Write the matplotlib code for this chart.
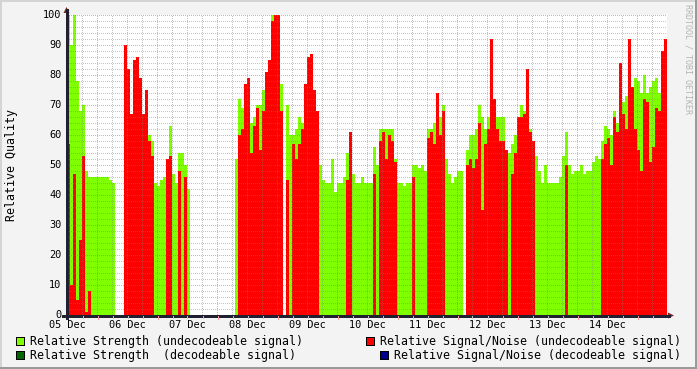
import numpy as np
import matplotlib
matplotlib.use("Agg")
import matplotlib.pyplot as plt
from matplotlib.patches import Rectangle, Polygon
from matplotlib.lines import Line2D
import matplotlib.transforms as mtransforms

n = np.nan
# ---- data: 20 samples per day (72 min each), 05 Dec .. 14 Dec ----
day_labels = ["05 Dec", "06 Dec", "07 Dec", "08 Dec", "09 Dec",
              "10 Dec", "11 Dec", "12 Dec", "13 Dec", "14 Dec"]
samples_per_day = 20

strength = [
    100, 90, 100, 78, 68, 70, 48, 46, 46, 46, 46, 46, 46, 46, 45, 44, n, n, n, 75,
    70, 65, 70, 70, 70, 63, 60, 60, 58, 44, 43, 45, 46, 46, 63, 47, 44, 54, 54, 50,
    42, n, n, n, n, n, n, n, n, n, n, n, n, n, n, n, 52, 72, 69, 70,
    70, 64, 66, 70, 70, 75, 78, 80, 100, 100, 100, 77, n, 70, 60, 60, 62, 66, 64, 70,
    75, 75, 70, 66, 50, 45, 44, 44, 52, 41, 44, 44, 46, 54, 52, 47, 44, 44, 46, 44,
    44, 44, 56, 50, 62, 62, 62, 62, 62, 52, 44, 44, 43, 44, 44, 50, 50, 49, 50, 48,
    62, 62, 64, 68, 66, 70, 52, 47, 44, 46, 48, 48, n, 55, 60, 60, 62, 70, 66, 62,
    66, 70, 68, 66, 66, 66, 54, 54, 57, 60, 66, 70, 68, 70, 62, 58, 53, 48, 44, 50,
    44, 44, 44, 44, 46, 53, 61, 50, 47, 48, 48, 50, 47, 48, 48, 51, 53, 52, 58, 63,
    62, 60, 68, 64, 70, 71, 73, 74, 76, 79, 78, 74, 80, 74, 76, 78, 79, 74, 78, 80,
]

snr = [
    57, 10, 47, 5, 25, 53, 1, 8, n, n, n, n, n, n, n, n, n, n, n, 90,
    82, 67, 85, 86, 79, 67, 75, 58, 53, n, n, n, n, 52, 53, n, n, 48, n, 46,
    n, n, n, n, n, n, n, n, n, n, n, n, n, n, n, n, n, 60, 62, 77,
    79, 54, 63, 69, 55, 68, 81, 85, 98, 100, 100, 68, n, 45, n, 57, 52, 57, 62, 77,
    86, 87, 75, 68, n, n, n, n, n, n, n, n, n, 45, 61, n, n, n, n, n,
    n, n, 47, n, 58, 61, 52, 60, 58, 51, n, n, n, n, n, 46, n, n, n, n,
    59, 61, 57, 74, 60, 68, n, n, n, n, n, n, n, 50, 52, 49, 52, 64, 35, 57,
    62, 92, 72, 62, 58, 58, 55, n, 47, 54, 66, 66, 67, 82, 61, 58, n, n, n, n,
    n, n, n, n, n, n, 50, n, n, n, n, n, n, n, n, n, n, n, 52, 57,
    59, 50, 66, 61, 84, 67, 62, 92, 76, 62, 55, 48, 72, 71, 51, 56, 69, 68, 88, 92,
]

y_ticks = [0, 10, 20, 30, 40, 50, 60, 70, 80, 90, 100]

legend_labels = [
    "Relative Strength (undecodeable signal)",
    "Relative Strength  (decodeable signal)",
    "Relative Signal/Noise (undecodeable signal)",
    "Relative Signal/Noise (decodeable signal)",
]
C_STR_U = "#80FF00"
C_STR_D = "#006400"
C_SNR_U = "#FF0000"
C_SNR_D = "#000090"

# ---- figure ----
W, H = 697, 369
fig = plt.figure(figsize=(W / 100, H / 100), dpi=100, facecolor="#F3F3F3")
def fx(x): return x / W
def fy(y): return 1 - y / H

ax = fig.add_axes([fx(67), fy(315), 600 / W, 300 / H])
ax.set_facecolor("white")
ndays = len(day_labels)
ax.set_xlim(0, ndays)
ax.set_ylim(0, 100)
for s in ax.spines.values():
    s.set_visible(False)
ax.set_xticks([]); ax.set_yticks([])

step = 1.0 / samples_per_day
g = np.array(strength, float)
r = np.array(snr, float)
x = np.arange(len(g)) * step
mg = ~np.isnan(g)
mr = ~np.isnan(r)
ax.bar(x[mg], g[mg], width=step, align="edge", color=C_STR_U, linewidth=0,
       antialiased=False, zorder=1)
ax.bar(x[mr], r[mr], width=step, align="edge", color=C_SNR_U, linewidth=0,
       antialiased=False, zorder=1.5)

# grid (dotted 1px on / 1px off, drawn over the data as rrdtool does)
px_x = ndays / 600.0      # one pixel in data units (x)
px_y = 100 / 300.0        # one pixel in data units (y)
minor_c = (0.5, 0.5, 0.5, 0.45)
major_c = (1.0, 0.25, 0.25, 0.5)
minor_x = [d * 0.25 for d in range(1, ndays * 4) if (d % 4) != 2]
major_x = [d + 0.5 for d in range(ndays)]
minor_y = [v for v in range(2, 100, 2) if v % 10]
major_y = y_ticks[1:]
dot = (0, (1, 1))
def vline(xv, c):
    ln, = ax.plot([xv + 0.5 * px_x] * 2, [0, 100], color=c, lw=0.72, ls=dot, zorder=2,
                  dash_capstyle="butt")
    ln.set_snap(False)
def hline(yv, c):
    ln, = ax.plot([0, ndays], [yv - 0.5 * px_y] * 2, color=c, lw=0.72, ls=dot, zorder=2,
                  dash_capstyle="butt")
    ln.set_snap(False)
for xv in minor_x: vline(xv, minor_c)
for yv in minor_y: hline(yv, minor_c)
for xv in major_x: vline(xv, major_c)
for yv in major_y: hline(yv, major_c)

# axes lines and arrows
axis_c = "#202030"
arrow_c = "#802525"
fig.add_artist(Line2D([fx(63), fx(669)], [fy(315.5), fy(315.5)], color=axis_c, lw=0.9, antialiased=False))
fig.add_artist(Line2D([fx(66.5), fx(66.5)], [fy(318), fy(10)], color=axis_c, lw=0.9, antialiased=False))
fig.add_artist(Polygon([(fx(668), fy(312.5)), (fx(674), fy(315.5)), (fx(668), fy(318.5))],
                       closed=True, color=arrow_c, lw=0))
fig.add_artist(Polygon([(fx(63.5), fy(13)), (fx(66.5), fy(7)), (fx(69.5), fy(13))],
                       closed=True, color=arrow_c, lw=0))
# small tick marks below x axis
for xv in minor_x:
    px = 67 + xv * 60
    fig.add_artist(Line2D([fx(px + 0.5), fx(px + 0.5)], [fy(316), fy(318)], color=(0.75, 0.75, 0.75), lw=0.72, antialiased=False))
for xv in major_x:
    px = 67 + xv * 60
    fig.add_artist(Line2D([fx(px + 0.5), fx(px + 0.5)], [fy(316), fy(319)], color=(1, 0.6, 0.6), lw=0.72, antialiased=False))

mono = "DejaVu Sans Mono"
# x labels
bt = mtransforms.blended_transform_factory(ax.transData, fig.transFigure)
for i, lab in enumerate(day_labels):
    ax.text(i, fy(328.3), lab, transform=bt, ha="center", va="baseline",
            fontsize=7.4, family=mono, color="black")
# y labels
bt2 = mtransforms.blended_transform_factory(fig.transFigure, ax.transData)
for v in y_ticks:
    ax.text(fx(61.5), v, str(v), transform=bt2, ha="right", va="center",
            fontsize=7.4, family=mono, color="black")

fig.text(fx(12), fy(165), "Relative Quality", rotation=90, ha="center", va="center",
         fontsize=8.4, family=mono, color="black")
fig.text(fx(688), fy(4), "RRDTOOL / TOBI OETIKER", rotation=270, ha="center", va="top",
         fontsize=6.0, family=mono, color="#b4b4b4")

# legend
legend_items = [
    (15, 345, legend_labels[0], C_STR_U),
    (15, 358.5, legend_labels[1], C_STR_D),
    (365, 345, legend_labels[2], C_SNR_U),
    (379, 358.5, legend_labels[3], C_SNR_D),
]
for lx, base, lab, col in legend_items:
    fig.add_artist(Rectangle((fx(lx + 0.5), fy(base)), 8 / W, 8 / H, facecolor=col,
                             edgecolor="black", lw=0.72, antialiased=False))
    fig.text(fx(lx + 15), fy(base), lab, ha="left", va="baseline", fontsize=8.4,
             family=mono, color="black")

# frame
fig.add_artist(Rectangle((0, 0), 1, 2 / H, facecolor="#9a9a9a", lw=0))
fig.add_artist(Rectangle((1 - 2 / W, 0), 2 / W, 1, facecolor="#9a9a9a", lw=0))
fig.add_artist(Rectangle((0, 1 - 2 / H), 1 - 2 / W, 2 / H, facecolor="#d4d4d4", lw=0))
fig.add_artist(Rectangle((0, 2 / H), 2 / W, 1 - 4 / H, facecolor="#d4d4d4", lw=0))

fig.savefig("out.png", dpi=100, facecolor=fig.get_facecolor())
